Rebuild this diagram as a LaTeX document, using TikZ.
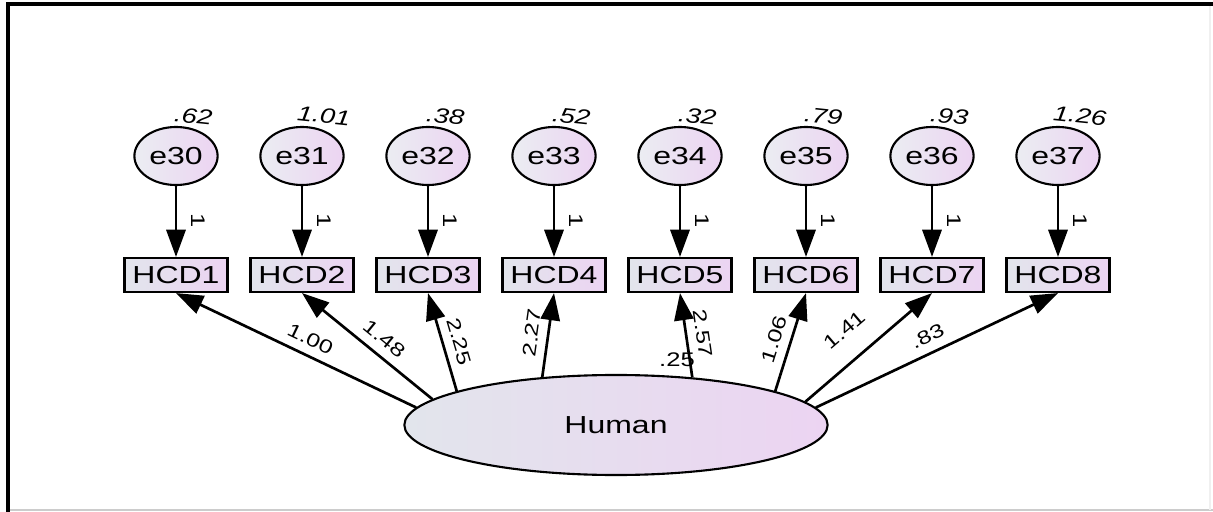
\documentclass[tikz,border=0pt]{standalone}
\usepackage{fontspec}
\setmainfont{Liberation Sans}[FakeStretch=1.3]
\usetikzlibrary{arrows.meta,shapes.geometric}
\definecolor{fillleft}{RGB}{226,229,236}
\definecolor{fillright}{RGB}{236,212,242}
\begin{document}
\begin{tikzpicture}[x=0.025cm, y=-0.025cm,
    obs/.style={draw, line width=1.5pt, left color=fillleft, right color=fillright,
      minimum width=2.575cm, minimum height=0.85cm, inner sep=0pt, font=\fontsize{17.5}{19}\selectfont},
    err/.style={ellipse, draw, line width=1.5pt, left color=fillleft!70!white, right color=fillright,
      minimum width=2.08cm, minimum height=1.45cm, inner sep=0pt, font=\fontsize{17.5}{19}\selectfont},
    lat/.style={ellipse, draw, line width=1.5pt, left color=fillleft, right color=fillright,
      minimum width=10.58cm, minimum height=2.5cm, font=\fontsize{17.5}{19}\selectfont},
    reg/.style={line width=1.9pt, -{Triangle[length=0.68cm, width=0.48cm]}},
    load/.style={sloped, above=6pt, inner sep=0pt, font=\fontsize{13.5}{15}\selectfont},
    var/.style={anchor=west, rotate=-6, inner sep=0pt, font=\itshape\fontsize{15}{17}\selectfont},
    one/.style={inner sep=0pt, font=\fontsize{14}{16}\selectfont}]
    \useasboundingbox (0,0) rectangle (1213,512);
    % frame
    \draw[gray!40, line width=1.5pt] (8,510) -- (1213,510);
    \draw[gray!12, line width=0.8pt] (1210,4) -- (1210,510);
    \draw[black, line width=2.2pt] (8,512) -- (8,4) -- (1213,4);

    % error terms
    \node [err] (e30) at (176,156) {e30};
    \node [err] (e31) at (302,156) {e31};
    \node [err] (e32) at (428,156) {e32};
    \node [err] (e33) at (554,156) {e33};
    \node [err] (e34) at (680,156) {e34};
    \node [err] (e35) at (806,156) {e35};
    \node [err] (e36) at (932,156) {e36};
    \node [err] (e37) at (1058,156) {e37};
    \node [var] (v30) at (174,114) {.62};
    \node [var] (v31) at (297,113) {1.01};
    \node [var] (v32) at (426,114) {.38};
    \node [var] (v33) at (552,114) {.52};
    \node [var] (v34) at (678,114) {.32};
    \node [var] (v35) at (804,114) {.79};
    \node [var] (v36) at (930,114) {.93};
    \node [var] (v37) at (1053,113) {1.26};

    % indicators
    \node [obs] (hcd1) at (176,275) {HCD1};
    \node [obs] (hcd2) at (302,275) {HCD2};
    \node [obs] (hcd3) at (428,275) {HCD3};
    \node [obs] (hcd4) at (554,275) {HCD4};
    \node [obs] (hcd5) at (680,275) {HCD5};
    \node [obs] (hcd6) at (806,275) {HCD6};
    \node [obs] (hcd7) at (932,275) {HCD7};
    \node [obs] (hcd8) at (1058,275) {HCD8};

    % latent factor
    \node [lat] (human) at (616,425) {Human};

    \draw[reg] (e30) -- node[one, pos=.49, xshift=0.55cm, rotate=-90] {1} (hcd1);
    \draw[reg] (e31) -- node[one, pos=.49, xshift=0.55cm, rotate=-90] {1} (hcd2);
    \draw[reg] (e32) -- node[one, pos=.49, xshift=0.55cm, rotate=-90] {1} (hcd3);
    \draw[reg] (e33) -- node[one, pos=.49, xshift=0.55cm, rotate=-90] {1} (hcd4);
    \draw[reg] (e34) -- node[one, pos=.49, xshift=0.55cm, rotate=-90] {1} (hcd5);
    \draw[reg] (e35) -- node[one, pos=.49, xshift=0.55cm, rotate=-90] {1} (hcd6);
    \draw[reg] (e36) -- node[one, pos=.49, xshift=0.55cm, rotate=-90] {1} (hcd7);
    \draw[reg] (e37) -- node[one, pos=.49, xshift=0.55cm, rotate=-90] {1} (hcd8);

    \draw[reg] (human.175) -- node[load, pos=.47] {1.00} (hcd1.south);
    \draw[reg] (human.172) -- node[load, pos=.45] {1.48} (hcd2.south);
    \draw[reg] (human.168) -- node[load, pos=.46] {2.25} (hcd3.south);
    \draw[reg] (human.147) -- node[load, pos=.50] {2.27} (hcd4.south);
    \draw[reg] (human.32) -- node[load, pos=.49] {2.57} (hcd5.south);
    \draw[reg] (human.12) -- node[load, pos=.48] {1.06} (hcd6.south);
    \draw[reg] (human.7.5) -- node[load, pos=.46, above=9pt] {1.41} (hcd7.south);
    \draw[reg] (human.5) -- node[load, pos=.49] {.83} (hcd8.south);
    \node [one] (vhuman) at (677,360) {.25};
  \end{tikzpicture}
\end{document}
